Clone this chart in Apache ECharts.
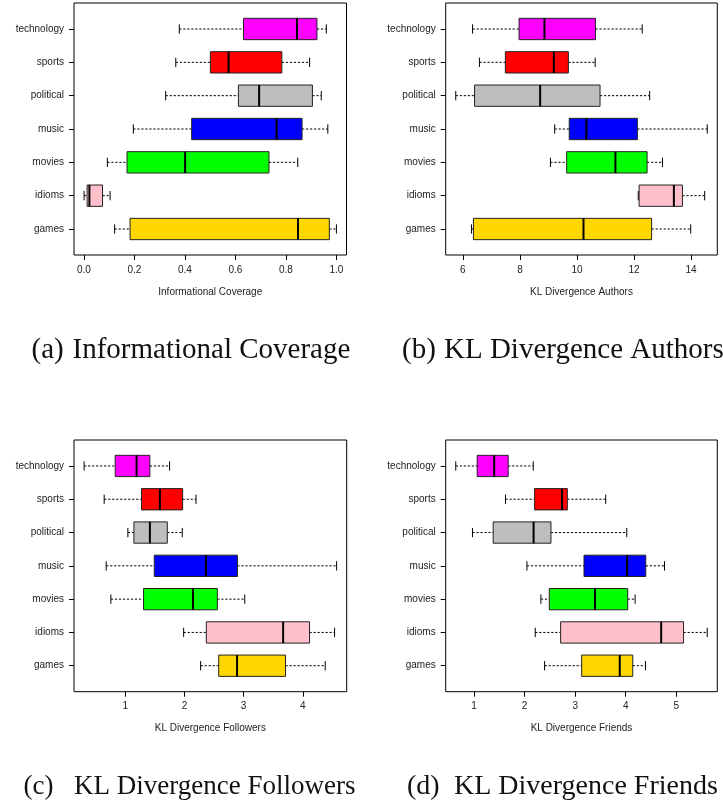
<!DOCTYPE html>
<html>
<head>
<meta charset="utf-8">
<script src="https://cdn.jsdelivr.net/npm/echarts@6/dist/echarts.min.js"></script>
<style>
  html, body { margin: 0; padding: 0; background: #fff; }
  #chart { width: 723px; height: 805px; }
</style>
</head>
<body>
<div id="chart"></div>
<script>
// Groups, bottom to top
const categories = ['games', 'idioms', 'movies', 'music', 'political', 'sports', 'technology'];
const boxColors = ['#FFD700', '#FFC0CB', '#00FF00', '#0000FF', '#BEBEBE', '#FF0000', '#FF00FF'];

// Five-number summaries per group: [lower whisker, Q1, median, Q3, upper whisker]
const coverageStats = [
  [0.122, 0.183, 0.848, 0.972, 1.000],
  [0.001, 0.013, 0.022, 0.074, 0.104],
  [0.093, 0.171, 0.401, 0.733, 0.847],
  [0.196, 0.427, 0.763, 0.864, 0.966],
  [0.324, 0.612, 0.694, 0.905, 0.940],
  [0.364, 0.501, 0.573, 0.784, 0.894],
  [0.378, 0.632, 0.844, 0.923, 0.960]
];
const authorsStats = [
  [6.30, 6.37, 10.23, 12.62, 13.99],
  [12.15, 12.18, 13.40, 13.70, 14.48],
  [9.07, 9.64, 11.35, 12.46, 13.00],
  [9.22, 9.73, 10.33, 12.12, 14.57],
  [5.75, 6.41, 8.71, 10.81, 12.55],
  [6.58, 7.49, 9.19, 9.70, 10.64],
  [6.34, 7.97, 8.86, 10.65, 12.29]
];
const followersStats = [
  [2.274, 2.579, 2.889, 3.707, 4.378],
  [1.987, 2.370, 3.667, 4.113, 4.536],
  [0.758, 1.310, 2.145, 2.556, 3.019],
  [0.679, 1.491, 2.365, 2.895, 4.570],
  [1.045, 1.147, 1.417, 1.711, 1.964],
  [0.645, 1.276, 1.586, 1.970, 2.196],
  [0.306, 0.831, 1.192, 1.417, 1.750]
];
const friendsStats = [
  [2.395, 3.129, 3.883, 4.140, 4.392],
  [2.210, 2.712, 4.703, 5.146, 5.615],
  [2.322, 2.488, 3.393, 4.041, 4.187],
  [2.045, 3.175, 4.028, 4.398, 4.769],
  [0.967, 1.377, 2.177, 2.521, 4.022],
  [1.621, 2.197, 2.739, 2.845, 3.605],
  [0.636, 1.060, 1.397, 1.674, 2.170]
];

// Axis ticks
const coverageTicks = [0, 0.2, 0.4, 0.6, 0.8, 1.0];
const authorsTicks = [6, 8, 10, 12, 14];
const followersTicks = [1, 2, 3, 4];
const friendsTicks = [1, 2, 3, 4, 5];
const groupTicks = [1, 2, 3, 4, 5, 6, 7];

const panels = [
  { stats: coverageStats, ticks: coverageTicks, digits: 1, name: 'Informational Coverage',
    grid: { left: 74, top: 3, width: 272.5, height: 252 },
    tag: '(a)', tagX: 31.5, capX: 72.5, capY: 352, capSize: 29 },
  { stats: authorsStats, ticks: authorsTicks, digits: 0, name: 'KL Divergence Authors',
    grid: { left: 445.7, top: 3, width: 271.6, height: 252 },
    tag: '(b)', tagX: 402, capX: 444, capY: 352, capSize: 29 },
  { stats: followersStats, ticks: followersTicks, digits: 0, name: 'KL Divergence Followers',
    grid: { left: 74, top: 440, width: 272.7, height: 251.7 },
    tag: '(c)', tagX: 23.5, capX: 74, capY: 788, capSize: 27 },
  { stats: friendsStats, ticks: friendsTicks, digits: 0, name: 'KL Divergence Friends',
    grid: { left: 445.7, top: 440, width: 271.6, height: 251.7 },
    tag: '(d)', tagX: 407, capX: 454, capY: 788, capSize: 28 }
];

const sans = '"Liberation Sans", Arial, Helvetica, sans-serif';
const serif = '"Liberation Serif", "Times New Roman", serif';

// R-style 4% padding around the data range
function paddedRange(stats) {
  let lo = Infinity, hi = -Infinity;
  stats.forEach(s => { lo = Math.min(lo, s[0]); hi = Math.max(hi, s[4]); });
  const pad = (hi - lo) * 0.04;
  return [lo - pad, hi + pad];
}

const BOX_HALF = 0.32;
const CAP_HALF = 0.14;

function renderBox(params, api) {
  const pos = api.value(0);
  const lo = api.value(1), q1 = api.value(2), md = api.value(3), q3 = api.value(4), hi = api.value(5);
  const yMid = api.coord([q1, pos])[1];
  const yTop = api.coord([q1, pos + BOX_HALF])[1];
  const yBot = api.coord([q1, pos - BOX_HALF])[1];
  const yCapTop = api.coord([q1, pos + CAP_HALF])[1];
  const yCapBot = api.coord([q1, pos - CAP_HALF])[1];
  const x = v => api.coord([v, pos])[0];
  const xlo = x(lo), xq1 = x(q1), xmd = x(md), xq3 = x(q3), xhi = x(hi);
  const dash = { stroke: '#000', lineWidth: 1, lineDash: [2.2, 1.8] };
  const solid = { stroke: '#000', lineWidth: 1 };
  return {
    type: 'group',
    children: [
      { type: 'line', shape: { x1: xlo, y1: yMid, x2: xq1, y2: yMid }, style: dash },
      { type: 'line', shape: { x1: xq3, y1: yMid, x2: xhi, y2: yMid }, style: dash },
      { type: 'line', shape: { x1: xlo, y1: yCapTop, x2: xlo, y2: yCapBot }, style: solid },
      { type: 'line', shape: { x1: xhi, y1: yCapTop, x2: xhi, y2: yCapBot }, style: solid },
      { type: 'rect', shape: { x: xq1, y: yTop, width: xq3 - xq1, height: yBot - yTop },
        style: { fill: boxColors[params.dataIndex], stroke: '#222', lineWidth: 1 } },
      { type: 'line', shape: { x1: xmd, y1: yTop, x2: xmd, y2: yBot }, style: { stroke: '#000', lineWidth: 2 } }
    ]
  };
}

const option = {
  backgroundColor: '#fff',
  animation: false,
  grid: [], xAxis: [], yAxis: [], series: [], graphic: []
};

panels.forEach((p, i) => {
  const [xmin, xmax] = paddedRange(p.stats);
  option.grid.push(Object.assign({ show: true, borderColor: '#000', borderWidth: 1, backgroundColor: 'transparent' }, p.grid));
  option.xAxis.push({
    type: 'value', gridIndex: i, min: xmin, max: xmax,
    axisLine: { show: false, onZero: false },
    splitLine: { show: false },
    axisTick: { show: true, length: 5, customValues: p.ticks, lineStyle: { color: '#000', width: 1 } },
    axisLabel: { customValues: p.ticks, margin: 10, color: '#222', fontSize: 10, fontFamily: sans,
      formatter: v => Number(v).toFixed(p.digits) },
    name: p.name, nameLocation: 'middle', nameGap: 32,
    nameTextStyle: { color: '#222', fontSize: 10, fontFamily: sans }
  });
  option.yAxis.push({
    type: 'value', gridIndex: i, min: 0.22, max: 7.78,
    axisLine: { show: false, onZero: false },
    splitLine: { show: false },
    axisTick: { show: true, length: 5, customValues: groupTicks, lineStyle: { color: '#000', width: 1 } },
    axisLabel: { customValues: groupTicks, margin: 10, color: '#222', fontSize: 10, fontFamily: sans,
      formatter: v => categories[Math.round(v) - 1] }
  });
  option.series.push({
    type: 'custom', xAxisIndex: i, yAxisIndex: i, clip: false,
    data: p.stats.map((s, k) => [k + 1].concat(s)),
    encode: { x: [1, 2, 3, 4, 5], y: 0 },
    renderItem: renderBox
  });
  const font = p.capSize + 'px ' + serif;
  option.graphic.push(
    { type: 'text', left: p.tagX, top: p.capY - p.capSize * 0.55, style: { text: p.tag, font: font, fill: '#111' } },
    { type: 'text', left: p.capX, top: p.capY - p.capSize * 0.55, style: { text: p.name, font: font, fill: '#111' } }
  );
});

const chart = echarts.init(document.getElementById('chart'), null, { renderer: 'canvas' });
chart.setOption(option);
</script>
</body>
</html>
